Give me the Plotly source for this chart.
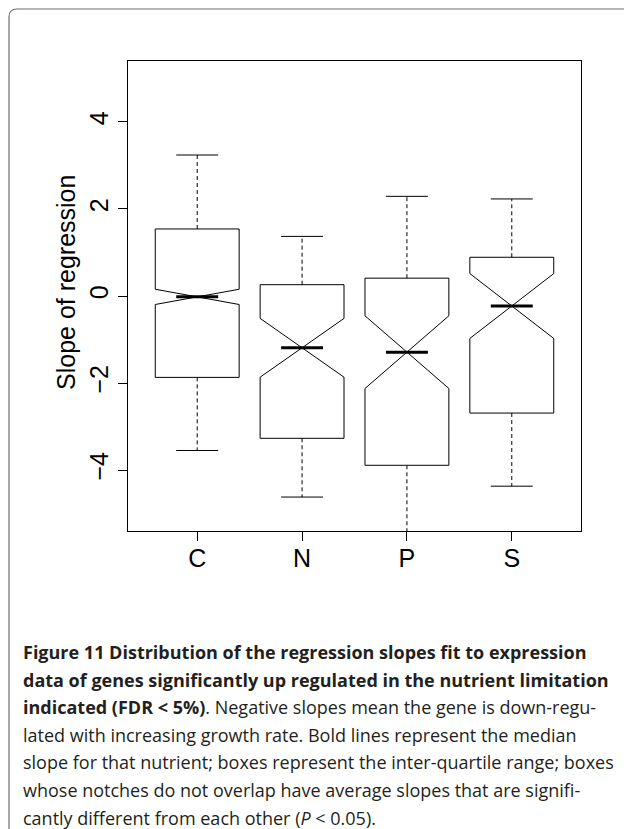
import plotly.graph_objects as go

# ---- data ----
categories = ["C", "N", "P", "S"]
positions = [1, 2, 3, 4]
lower_whisker = [-3.55, -4.62, -5.90, -4.37]
q1 = [-1.87, -3.27, -3.89, -2.69]
median = [-0.02, -1.19, -1.29, -0.23]
q3 = [1.54, 0.26, 0.41, 0.89]
upper_whisker = [3.24, 1.37, 2.29, 2.23]
notch_half = [0.175, 0.675, 0.835, 0.745]

y_ticks = [-4, -2, 0, 2, 4]
y_tick_text = ["\u22124", "\u22122", "0", "2", "4"]
y_title = "Slope of regression"

caption_lines = [
    "<b>Figure 11 Distribution of the regression slopes fit to expression</b>",
    "<b>data of genes significantly up regulated in the nutrient limitation</b>",
    "<b>indicated (FDR &lt; 5%)</b>. Negative slopes mean the gene is down-regu-",
    "lated with increasing growth rate. Bold lines represent the median",
    "slope for that nutrient; boxes represent the inter-quartile range; boxes",
    "whose notches do not overlap have average slopes that are signifi-",
    "cantly different from each other (<i>P</i> &lt; 0.05).",
]

# ---- layout constants ----
W, H = 624, 829
ML, MR, MT, MB = 128, 43, 61, 298
PW, PH = W - ML - MR, H - MT - MB
BOX_W = 0.8
CAP_HALF = 0.2
AX_FONT = dict(family="Liberation Sans, Arial, sans-serif", size=25, color="black")


def px2paper_x(px):
    return (px - ML) / PW


def px2paper_y(py):
    return (H - MB - py) / PH


fig = go.Figure()

# boxes (notched), whiskers drawn separately as dashed lines
fig.add_trace(go.Box(
    x=positions, q1=q1, median=median, q3=q3,
    lowerfence=q1, upperfence=q3, notchspan=notch_half,
    notched=True, notchwidth=0.5, width=BOX_W, whiskerwidth=0,
    boxpoints=False, fillcolor="rgba(0,0,0,0)",
    line=dict(color="black", width=1), showlegend=False, hoverinfo="skip",
))

wx, wy = [], []
for p, a, b, c, d in zip(positions, lower_whisker, q1, q3, upper_whisker):
    wx += [p, p, None, p, p, None]
    wy += [c, d, None, b, a, None]
fig.add_trace(go.Scatter(x=wx, y=wy, mode="lines", showlegend=False, hoverinfo="skip",
                         line=dict(color="black", width=1, dash="4px,3px")))

cx, cy = [], []
for p, a, d in zip(positions, lower_whisker, upper_whisker):
    cx += [p - CAP_HALF, p + CAP_HALF, None, p - CAP_HALF, p + CAP_HALF, None]
    cy += [d, d, None, a, a, None]
fig.add_trace(go.Scatter(x=cx, y=cy, mode="lines", showlegend=False, hoverinfo="skip",
                         line=dict(color="black", width=1)))

mx, my = [], []
for p, m in zip(positions, median):
    mx += [p - CAP_HALF, p + CAP_HALF, None]
    my += [m, m, None]
fig.add_trace(go.Scatter(x=mx, y=my, mode="lines", showlegend=False, hoverinfo="skip",
                         line=dict(color="black", width=3)))

fig.update_xaxes(
    range=[0.34, 4.66], tickvals=positions, ticktext=categories,
    ticks="outside", ticklen=9, tickcolor="black", tickwidth=1,
    ticklabelstandoff=-4,
    showline=True, linecolor="black", linewidth=1, mirror=True,
    showgrid=False, zeroline=False, tickfont=AX_FONT, fixedrange=True,
)
fig.update_yaxes(
    range=[-5.4, 5.4], tickvals=y_ticks, ticktext=y_tick_text, tickangle=-90,
    ticks="outside", ticklen=9, tickcolor="black", tickwidth=1,
    showline=True, linecolor="black", linewidth=1, mirror=True,
    showgrid=False, zeroline=False, tickfont=AX_FONT, fixedrange=True,
)

# y-axis title
fig.add_annotation(
    text=y_title, textangle=-90, xref="paper", yref="paper",
    x=px2paper_x(66), y=px2paper_y(283), xanchor="center", yanchor="middle",
    showarrow=False, font=AX_FONT,
)

# rounded frame of the figure panel
x0, y0, r = px2paper_x(9), px2paper_y(9), 8
path = (f"M {x0},{px2paper_y(900)} L {x0},{px2paper_y(9 + r)} "
        f"Q {x0},{y0} {px2paper_x(9 + r)},{y0} L {px2paper_x(700)},{y0}")
fig.add_shape(type="path", path=path, xref="paper", yref="paper",
              line=dict(color="#6e6e6e", width=1.2))

CAP_FONT = dict(family="Open Sans, Noto Sans, sans-serif", size=18, color="#231f20")
first_center, spacing = 652, 27.6
for i, line in enumerate(caption_lines):
    fig.add_annotation(
        text=line, xref="paper", yref="paper",
        x=px2paper_x(21), y=px2paper_y(first_center + i * spacing),
        xanchor="left", yanchor="middle", showarrow=False, align="left",
        font=CAP_FONT,
    )

fig.update_layout(
    width=W, height=H, margin=dict(l=ML, r=MR, t=MT, b=MB, autoexpand=False),
    paper_bgcolor="white", plot_bgcolor="white", showlegend=False,
)

fig.write_html("out.html")
